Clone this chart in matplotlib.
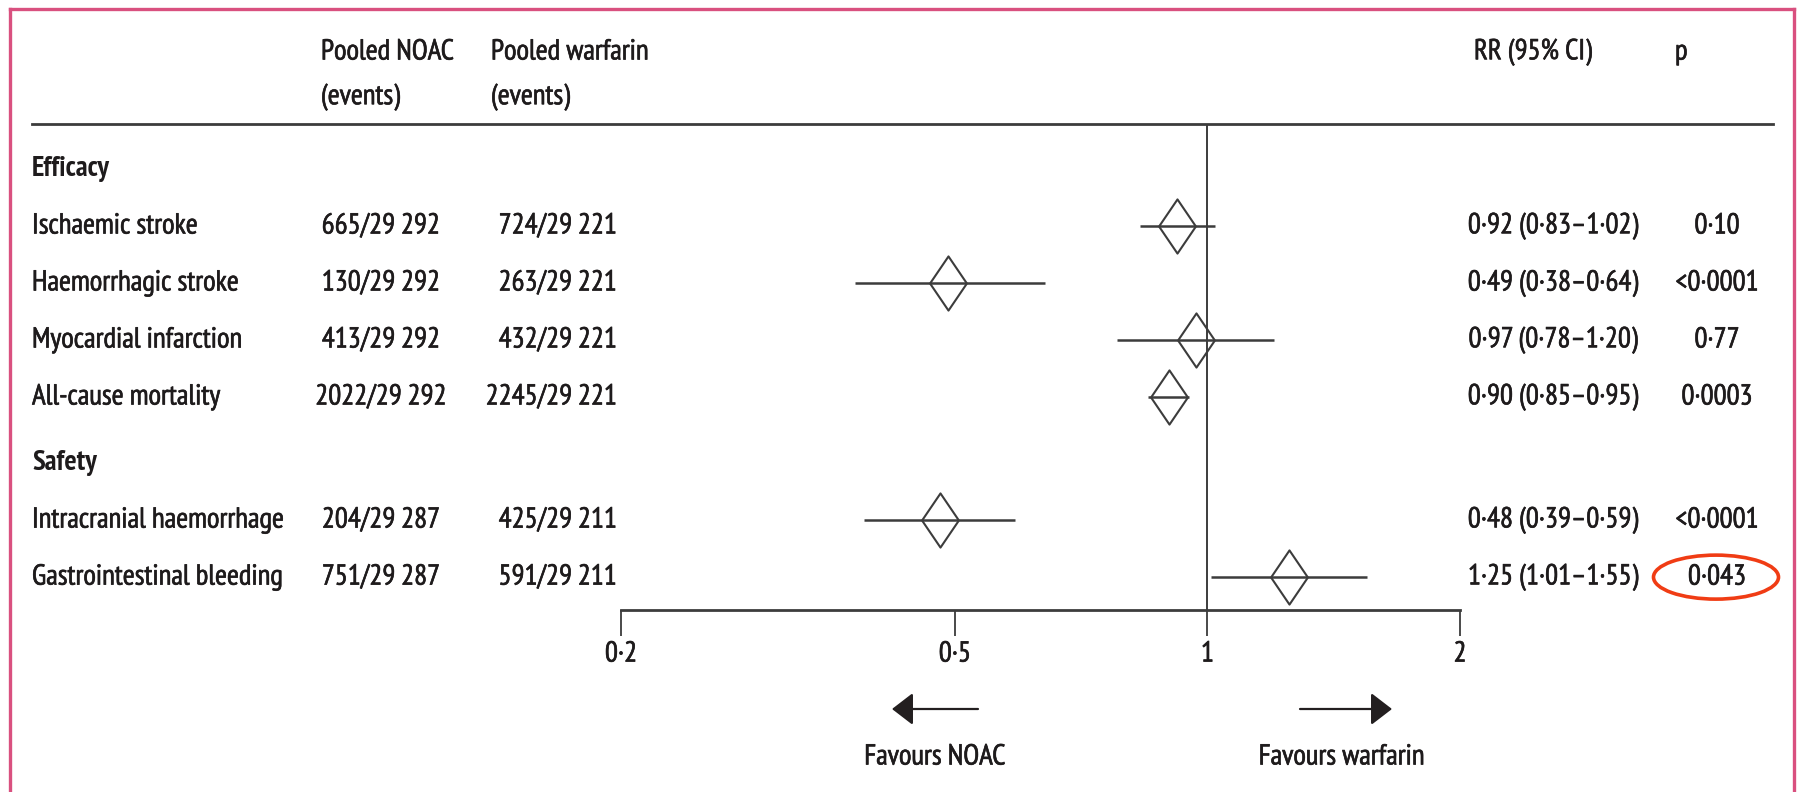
import matplotlib
matplotlib.use("Agg")
import matplotlib.pyplot as plt
import matplotlib.patheffects as pe
from matplotlib.patches import Ellipse, FancyArrowPatch
from matplotlib.path import Path
from matplotlib.lines import Line2D
from matplotlib.ticker import FixedLocator, FixedFormatter, NullLocator
from matplotlib.transforms import blended_transform_factory

# ---------------- data ----------------
sections = ["Efficacy", "Safety"]
outcomes = ["Ischaemic stroke", "Haemorrhagic stroke", "Myocardial infarction",
            "All-cause mortality", "Intracranial haemorrhage",
            "Gastrointestinal bleeding"]
outcome_section = [0, 0, 0, 0, 1, 1]
noac_events = [665, 130, 413, 2022, 204, 751]
noac_total = [29292, 29292, 29292, 29292, 29287, 29287]
warf_events = [724, 263, 432, 2245, 425, 591]
warf_total = [29221, 29221, 29221, 29221, 29211, 29211]
rr = [0.92, 0.49, 0.97, 0.90, 0.48, 1.25]
ci_low = [0.83, 0.38, 0.78, 0.85, 0.39, 1.01]
ci_high = [1.02, 0.64, 1.20, 0.95, 0.59, 1.55]
p_values = ["0·10", "<0·0001", "0·77", "0·0003", "<0·0001", "0·043"]
circled_row = 5
x_ticks = [0.2, 0.5, 1, 2]
x_ticklabels = ["0·2", "0·5", "1", "2"]
headers = [("Pooled NOAC", "(events)"), ("Pooled warfarin", "(events)"),
           ("RR (95% CI)", ""), ("p", "")]

# ---------------- style ----------------
W, H = 1799, 792
FONT = ["PT Sans Narrow", "DejaVu Sans"]
plt.rcParams["font.family"] = FONT
TXT = "#1e1b1c"
LINE = "#3c3c3c"
FS = 20.8
# a hairline stroke gives the regular text a slightly heavier, print-like weight
INK = [pe.withStroke(linewidth=0.45, foreground=TXT)]


def dec(v):
    return f"{v:.2f}".replace(".", "·")


def count(n):
    s = str(n)
    if n >= 10000:
        s = s[:-3] + "\u2009" + s[-3:]
    return s


def fx(px):
    return px / W


def fy(py):
    return 1 - py / H


fig = plt.figure(figsize=(W / 100, H / 100), dpi=100)


def put(x, y, s, stroke=True, **kw):
    kw.setdefault("fontsize", FS)
    kw.setdefault("color", TXT)
    kw.setdefault("va", "center")
    return fig.text(x, y, s, path_effects=INK if stroke else None, **kw)


# row layout: one unit per row, a small extra gap before each new section
rows = []          # (kind, index, y)
y = 0.0
for s, name in enumerate(sections):
    if s > 0:
        y += 0.16
    rows.append(("section", s, y))
    y += 1
    for i, sec in enumerate(outcome_section):
        if sec == s:
            rows.append(("outcome", i, y))
            y += 1

unit_px = 57.0
top_y_px, first_row_px, axis_y_px = 124, 169, 610
y_top = -(first_row_px - top_y_px) / unit_px
y_bottom = (axis_y_px - first_row_px) / unit_px

x0_px, x1_px = 621, 1460
ax = fig.add_axes([fx(x0_px), fy(axis_y_px), fx(x1_px - x0_px), (axis_y_px - top_y_px) / H])
ax.set_xscale("log")
ax.set_xlim(x_ticks[0], x_ticks[-1])
ax.set_ylim(y_bottom, y_top)
for sp in ["top", "left", "right"]:
    ax.spines[sp].set_visible(False)
ax.spines["bottom"].set_linewidth(2.0)
ax.spines["bottom"].set_color(LINE)
ax.patch.set_visible(False)
ax.yaxis.set_major_locator(NullLocator())
ax.xaxis.set_major_locator(FixedLocator(x_ticks))
ax.xaxis.set_major_formatter(FixedFormatter(x_ticklabels))
ax.xaxis.set_minor_locator(NullLocator())
ax.tick_params(axis="x", direction="out", length=19, width=1.3, color=LINE,
               labelsize=FS, labelcolor=TXT, pad=3)
for lab in ax.get_xticklabels():
    lab.set_path_effects(INK)

# line of no effect
ax.axvline(1, color=LINE, lw=1.4, zorder=1)

# diamonds and confidence intervals
diamond = Path([(0, 1), (0.68, 0), (0, -1), (-0.68, 0), (0, 1)],
               [Path.MOVETO, Path.LINETO, Path.LINETO, Path.LINETO, Path.CLOSEPOLY])
row_y = {}
for kind, idx, yy in rows:
    if kind == "outcome":
        row_y[idx] = yy
for i in range(len(outcomes)):
    yy = row_y[i]
    ax.plot([ci_low[i], ci_high[i]], [yy, yy], color=LINE, lw=1.8, zorder=3,
            solid_capstyle="butt")
    ax.plot([rr[i]], [yy], marker=diamond, markersize=39, markerfacecolor="none",
            markeredgecolor=LINE, markeredgewidth=1.5, zorder=2)

# table text
tr = blended_transform_factory(fig.transFigure, ax.transData)
for kind, idx, yy in rows:
    if kind == "section":
        put(fx(32), yy, sections[idx], stroke=False, transform=tr, fontweight="bold",
            ha="left")
    else:
        put(fx(32), yy, outcomes[idx], transform=tr, ha="left")
        put(fx(381), yy, f"{count(noac_events[idx])}/{count(noac_total[idx])}",
            transform=tr, ha="center")
        put(fx(617), yy, f"{count(warf_events[idx])}/{count(warf_total[idx])}",
            transform=tr, ha="right")
        put(fx(1553), yy, f"{dec(rr[idx])} ({dec(ci_low[idx])}–{dec(ci_high[idx])})",
            transform=tr, ha="center")
        put(fx(1717), yy, p_values[idx], transform=tr, ha="center")

# highlighted p value
ax_ell = Ellipse((fx(1716), row_y[circled_row]), fx(125), 44 / unit_px, transform=tr,
                 fill=False, edgecolor="#f03c14", lw=2.6, zorder=5)
fig.add_artist(ax_ell)

# column headers
for (l1, l2), px in zip(headers, [321, 491, 1474, 1675]):
    put(fx(px), fy(52), l1, ha="left")
    if l2:
        put(fx(px), fy(97), l2, ha="left")

# header rule
fig.add_artist(Line2D([fx(32), fx(1773)], [fy(124), fy(124)], color=LINE, lw=2.0))

# favours arrows
for (tail, tip), label, cx in [((978, 892), "Favours NOAC", 935),
                                 ((1300, 1392), "Favours warfarin", 1342)]:
    arr = FancyArrowPatch((fx(tail), fy(709)), (fx(tip), fy(709)), transform=fig.transFigure,
                          arrowstyle="-|>,head_length=13,head_width=10", mutation_scale=1,
                          color="#231f20", lw=1.6, shrinkA=0, shrinkB=0)
    fig.add_artist(arr)
    put(fx(cx), fy(757), label, ha="center")

# frame
frame_c = "#d9507f"
for xs, ys in [([10, 10], [9, H]), ([1794, 1794], [9, H]), ([10, 1794], [9, 9])]:
    fig.add_artist(Line2D([fx(v) for v in xs], [fy(v) for v in ys], color=frame_c, lw=2.4))

fig.savefig("out.png", dpi=100, facecolor="white")
